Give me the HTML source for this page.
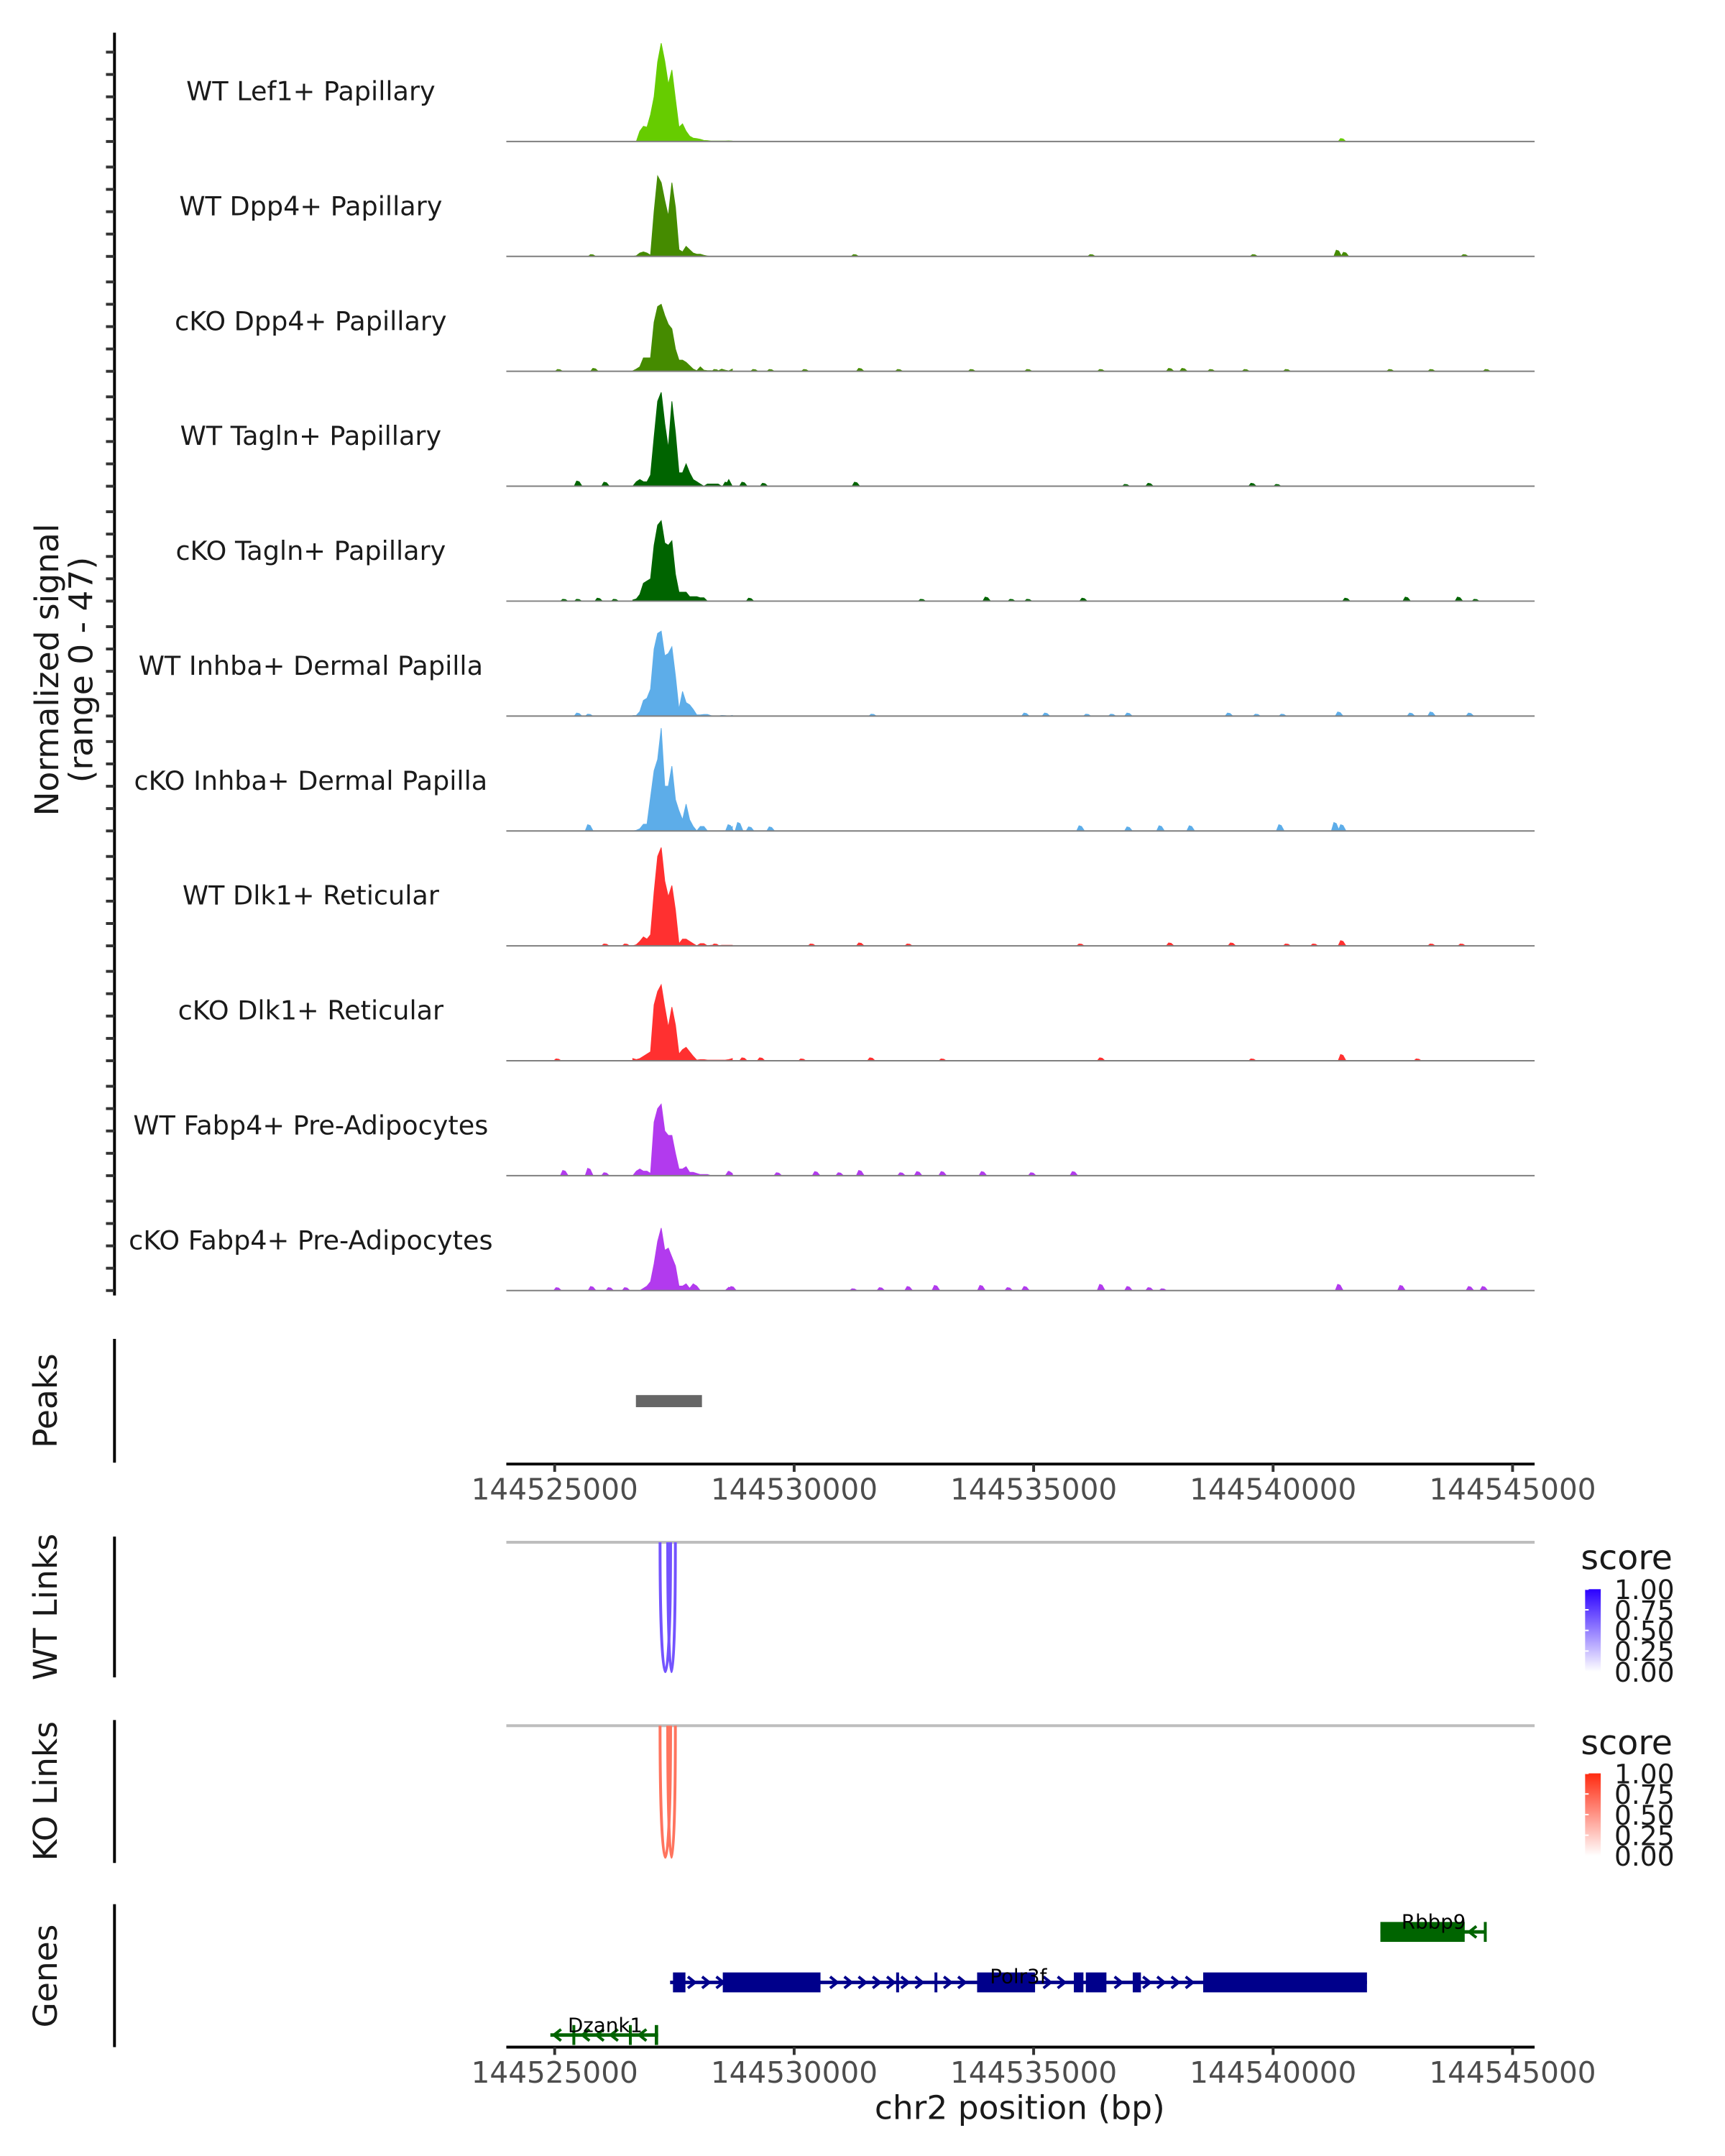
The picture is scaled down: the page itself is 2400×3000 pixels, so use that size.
<!DOCTYPE html>
<html><head><meta charset="utf-8">
<style>
html,body{margin:0;padding:0;background:#fff;}
svg{display:block;font-family:"DejaVu Sans","Liberation Sans",sans-serif;}
</style></head>
<body>
<svg id="chart" width="2400" height="3000" viewBox="0 0 2400 3000" xmlns="http://www.w3.org/2000/svg">
<rect x="0" y="0" width="2400" height="3000" fill="#fff"/>
<g transform="scale(0.9894)">
<text transform="translate(82,942) rotate(-90)" text-anchor="middle" font-size="46" fill="#1a1a1a">Normalized signal</text>
<text transform="translate(130,942) rotate(-90)" text-anchor="middle" font-size="46" fill="#1a1a1a">(range 0 - 47)</text>
<text transform="translate(80,1970) rotate(-90)" text-anchor="middle" font-size="46" fill="#1a1a1a">Peaks</text>
<text transform="translate(80,2260) rotate(-90)" text-anchor="middle" font-size="46" fill="#1a1a1a">WT Links</text>
<text transform="translate(80,2519) rotate(-90)" text-anchor="middle" font-size="46" fill="#1a1a1a">KO Links</text>
<text transform="translate(80,2779) rotate(-90)" text-anchor="middle" font-size="46" fill="#1a1a1a">Genes</text>
<text x="1434" y="2980" text-anchor="middle" font-size="46" fill="#1a1a1a">chr2 position (bp)</text>
<g id="g"></g>
</g>
</svg>
<script>
// ---------- data ----------
const trackNames=["WT Lef1+ Papillary","WT Dpp4+ Papillary","cKO Dpp4+ Papillary","WT Tagln+ Papillary","cKO Tagln+ Papillary","WT Inhba+ Dermal Papilla","cKO Inhba+ Dermal Papilla","WT Dlk1+ Reticular","cKO Dlk1+ Reticular","WT Fabp4+ Pre-Adipocytes","cKO Fabp4+ Pre-Adipocytes"];
const trackColors=["#66cc00","#458b00","#458b00","#006400","#006400","#5dade9","#5dade9","#ff3030","#ff3030","#b23aee","#b23aee"];
const gridBp=[144526630,144526704,144526778,144526853,144526927,144527001,144527075,144527150,144527224,144527298,144527372,144527447,144527521,144527595,144527669,144527744,144527818,144527892,144527966,144528041,144528115,144528189,144528263,144528338,144528412,144528486,144528560,144528635,144528709];
const sigWtLef1=[0,0,4.6,6.8,6.4,12,20,35.6,44,36,25.6,32,19,6.4,7.9,4.6,2.4,1.5,1.3,1,0.5,0.4,0.2,0.2,0.2,0.2,0.2,0.3,0.2];
const sigWtDpp4=[0,0.3,1.5,2,1.5,0.5,20,36,33,25,18,33,22,3,2,4.5,3,1.5,1,1,0.5,0.2,0,0,0,0,0,0,0];
const sigKoDpp4=[0.2,1,2,6,6,6,22,29,30,25,21,19,10,5,5,4,2.5,1,0.3,2,0.5,0.3,0.3,0.2,0.2,1,0.5,0.2,1];
const sigWtTagln=[0,2,3,2,2,5,22,38,42,28,17,38,24,6,6,10,6,3,2,1,0,1,1,1,1,0,0,3,0];
const sigKoTagln=[0.5,1,3,8,9,10,25,34,36,26,25,27,12,4,4,4,2,2,2,1.5,1.5,0,0,0,0,0,0,0,0];
const sigWtInhba=[0.2,0.3,2,7,8,12,30,37,38,27,28,31,18,3,11,6,5,3,0.5,0.5,0.7,0.7,0.2,0,0,0.3,0.2,0,0.3];
const sigKoInhba=[0,0.3,1,3,3,15,27,32,46,20,20,29,14,9,5,12,5,2,0,2,2,0,0,0,0,0,0,1,2];
const sigWtDlk1=[0,0.5,2,4,3,5,24,40,44,29,22,27,16,1,3,3,2,1,0,1,1,0,0.3,0.3,0,0.3,0.3,0.3,0.3];
const sigKoDlk1=[1,0.5,1,2,3,4,25,31,34,24,15,24,16,3,5,6,4,2,0.3,0.5,0.5,0.3,0.3,0.3,0.3,0.3,0.3,0.5,1];
const sigWtFabp4=[0,2,3,2,2,1,24,30,32,20,18,18,10,3,3,4,1.5,1.5,1,0.5,0.5,0.5,0,0,0,0,0,2,1];
const sigKoFabp4=[0,0,0,1,2,4,12,22,28,18,19,15,11,2,2,3,1,3,2,0,0,0,0,0,0,0,0,1.5,1];
const sigAll=[sigWtLef1,sigWtDpp4,sigKoDpp4,sigWtTagln,sigKoTagln,sigWtInhba,sigKoInhba,sigWtDlk1,sigKoDlk1,sigWtFabp4,sigKoFabp4];
// small bumps: positions in kb from 144525000, heights in signal units
const bumpKbWtLef1=[16.44]; const bumpHWtLef1=[1.5];
const bumpKbWtDpp4=[0.78,6.27,11.21,14.60,16.35,16.50,19.00]; const bumpHWtDpp4=[1,1,1,1,3,2,1];
const bumpKbKoDpp4=[0.09,0.83,3.36,4.17,4.51,5.23,6.38,7.19,8.71,9.89,11.41,12.85,13.13,13.71,14.43,15.29,17.45,18.31,19.46]; const bumpHKoDpp4=[1,1.5,1,1,1,1,1.5,1,1,1,1,1.5,1.5,1,1,1,1,1,1];
const bumpKbWtTagln=[0.49,1.06,3.59,3.94,4.37,6.29,11.93,12.42,14.57,15.09]; const bumpHWtTagln=[2.5,2,2,2,1.5,2,1,1.5,1.5,1];
const bumpKbKoTagln=[0.20,0.49,0.92,1.26,4.08,7.67,9.02,9.54,9.89,11.04,16.53,17.79,18.88,19.23]; const bumpHKoTagln=[1,1,1.5,1,1.5,1,2,1,1,1.5,1.5,2,2,1];
const bumpKbWtInhba=[0.49,0.72,6.64,9.83,10.26,11.12,11.64,11.98,14.08,14.66,15.20,16.38,17.88,18.31,19.11]; const bumpHWtInhba=[1.5,1,1,1.5,1.5,1,1,1.5,1.5,1,1,2,1.5,2,1.5];
const bumpKbKoInhba=[0.72,3.65,3.85,4.08,4.51,10.98,11.98,12.65,13.28,15.15,16.30,16.44]; const bumpHKoInhba=[3,3,4,2,2,2.5,2,2.5,2.5,3,4,3];
const bumpKbWtDlk1=[1.06,1.49,3.36,5.37,6.38,7.39,10.98,12.85,14.14,15.29,15.86,16.44,18.31,18.94]; const bumpHWtDlk1=[1,1,1,1,1.5,1,1,1.5,1.5,1,1,2.5,1,1];
const bumpKbKoDlk1=[0.06,3.94,4.31,5.17,6.61,8.10,11.41,14.57,16.44,18.02]; const bumpHKoDlk1=[1,1.5,1.5,1,1.5,1,1.5,1,3,1];
const bumpKbWtFabp4=[0.20,0.72,1.06,3.65,4.66,5.46,5.95,6.38,7.24,7.59,8.10,8.94,9.97,10.84]; const bumpHWtFabp4=[2.5,3.5,1.5,2,1.5,2,1.5,2.5,1.5,2,2,2,1.5,2];
const bumpKbKoFabp4=[0.06,0.78,1.15,1.49,3.71,6.24,6.81,7.39,7.96,8.91,9.48,9.83,11.41,11.98,12.42,12.70,16.38,17.68,19.11,19.40]; const bumpHKoFabp4=[1.5,2,1.5,1.5,2,1,1.5,2,2.5,2.5,1.5,2,3,2,1.5,1,3,2.5,2,2];
const bumpKbAll=[bumpKbWtLef1,bumpKbWtDpp4,bumpKbKoDpp4,bumpKbWtTagln,bumpKbKoTagln,bumpKbWtInhba,bumpKbKoInhba,bumpKbWtDlk1,bumpKbKoDlk1,bumpKbWtFabp4,bumpKbKoFabp4];
const bumpHAll=[bumpHWtLef1,bumpHWtDpp4,bumpHKoDpp4,bumpHWtTagln,bumpHKoTagln,bumpHWtInhba,bumpHKoInhba,bumpHWtDlk1,bumpHKoDlk1,bumpHWtFabp4,bumpHKoFabp4];
const yTicks=[0,10,20,30,40];
const xTickBp=[144525000,144530000,144535000,144540000,144545000];
const xTickLabels=["144525000","144530000","144535000","144540000","144545000"];
const peakStart=[144526696]; const peakEnd=[144528075];
const wtLinkStart=[144527200,144527360]; const wtLinkEnd=[144527420,144527520]; const wtLinkScore=[0.8,0.8];
const koLinkStart=[144527200,144527360]; const koLinkEnd=[144527420,144527520]; const koLinkScore=[0.75,0.75];
const legendTicks=[1.00,0.75,0.50,0.25,0.00];
const legendLabels=["1.00","0.75","0.50","0.25","0.00"];
const polr3fLine=[144527410,144541960];
const polr3fExonStart=[144527470,144528510,144532130,144532930,144533820,144535840,144536090,144537070,144538540];
const polr3fExonEnd=[144527730,144530550,144532190,144532990,144535030,144536040,144536520,144537240,144541960];
const rbbp9Line=[144542240,144544460]; const rbbp9ExonStart=[144542240,144544400]; const rbbp9ExonEnd=[144544000,144544460];
const dzank1Line=[144524910,144527160]; const dzank1ExonStart=[144525370,144527090,144526550]; const dzank1ExonEnd=[144525430,144527160,144526580];

// ---------- scales ----------
const NS="http://www.w3.org/2000/svg";
const G=document.getElementById('g');
const X0=712, X1=2158;
function sx(bp){return 780+(bp-144525000)*0.06735;}
const base0=199, trackStep=161.6, unitPx=147.7/47;
function baseY(i){return base0+i*trackStep;}
function sy(i,v){return baseY(i)-v*unitPx;}
function mk(tag,attrs){const e=document.createElementNS(NS,tag);for(const k in attrs)e.setAttribute(k,attrs[k]);G.appendChild(e);return e;}

let ax=mk('line',{x1:161,y1:46,x2:161,y2:1822,stroke:'#000','stroke-width':4});



trackNames.forEach((name,i)=>{
  const b=baseY(i), col=trackColors[i];
  yTicks.forEach(v=>{
    const t=mk('line',{x1:149,x2:161,y1:sy(i,v),y2:sy(i,v),stroke:'#333','stroke-width':4});
    
    
  });
  const lbl=mk('text',{x:437,y:b-71+13,'text-anchor':'middle','font-size':37,fill:'#1a1a1a'});
  lbl.textContent=name;
  
  
  const vals=sigAll[i];
  let d='M'+sx(gridBp[0])+','+b;
  gridBp.forEach((bp,k)=>{d+=' L'+sx(bp).toFixed(1)+','+sy(i,vals[k]).toFixed(1);});
  d+=' L'+sx(gridBp[gridBp.length-1])+','+b+' Z';
  const p=mk('path',{d:d,fill:col,stroke:col,'stroke-width':1});
  
  
  bumpKbAll[i].forEach((kb,k)=>{
    const bp=144525000+kb*1000, h=bumpHAll[i][k];
    const pts=[[bp-90,0],[bp-35,h],[bp+25,h*0.85],[bp+90,0]].map(q=>sx(q[0]).toFixed(1)+','+sy(i,q[1]).toFixed(1)).join(' ');
    const bb=mk('polygon',{points:pts,fill:col});
    
    
  });
  const bl=mk('line',{x1:X0,x2:X1,y1:b,y2:b,stroke:'#7f7f7f','stroke-width':2});
  
  
});

let pa=mk('line',{x1:161,y1:1883,x2:161,y2:2057,stroke:'#000','stroke-width':4});


peakStart.forEach((s,k)=>{
  const r=mk('rect',{x:sx(s),y:1962,width:sx(peakEnd[k])-sx(s),height:17,fill:'#666'});
  
  
});
function xAxis(y,nm){
  const l=mk('line',{x1:X0,x2:X1,y1:y,y2:y,stroke:'#000','stroke-width':4});
  
  
  xTickBp.forEach((bp,k)=>{
    const t=mk('line',{x1:sx(bp),x2:sx(bp),y1:y,y2:y+11,stroke:'#333','stroke-width':4});
    
    
    const tl=mk('text',{x:sx(bp),y:y+50,'text-anchor':'middle','font-size':41,fill:'#4d4d4d'});
    tl.textContent=xTickLabels[k];
    
    
  });
}
xAxis(2059,'peaks-x-axis');

function linkPanel(top,bottom,starts,ends,scores,hi,nm){
  const a=mk('line',{x1:161,y1:top-8,x2:161,y2:bottom+8,stroke:'#000','stroke-width':4});
  
  
  const g=mk('line',{x1:X0,x2:X1,y1:top,y2:top,stroke:'#bebebe','stroke-width':4});
  
  
  starts.forEach((s,k)=>{
    const x1=sx(s),x2=sx(ends[k]),dep=(bottom-top)*4/3;
    const sc=scores[k];
    const c='rgb('+Math.round(255+(hi[0]-255)*sc)+','+Math.round(255+(hi[1]-255)*sc)+','+Math.round(255+(hi[2]-255)*sc)+')';
    const p=mk('path',{d:'M'+x1+','+top+' C'+x1+','+(top+dep)+' '+x2+','+(top+dep)+' '+x2+','+top,fill:'none',stroke:c,'stroke-width':4});
    
    
  });
}
linkPanel(2169,2351,wtLinkStart,wtLinkEnd,wtLinkScore,[80,40,255],'wt-links');
linkPanel(2427,2612,koLinkStart,koLinkEnd,koLinkScore,[255,70,40],'ko-links');

function legend(titleY,barTop,hiCol,nm){
  const defs=mk('defs',{});
  const gr=document.createElementNS(NS,'linearGradient');
  gr.setAttribute('id',nm+'-grad');gr.setAttribute('x1','0');gr.setAttribute('y1','1');gr.setAttribute('x2','0');gr.setAttribute('y2','0');
  const s1=document.createElementNS(NS,'stop');s1.setAttribute('offset','0');s1.setAttribute('stop-color','#ffffff');
  const s2=document.createElementNS(NS,'stop');s2.setAttribute('offset','1');s2.setAttribute('stop-color',hiCol);
  gr.appendChild(s1);gr.appendChild(s2);defs.appendChild(gr);
  const t=mk('text',{x:2223,y:titleY,'font-size':48,fill:'#1a1a1a'});
  t.textContent='score';
  
  
  const bh=116;
  const r=mk('rect',{x:2229,y:barTop,width:22,height:bh,fill:'url(#'+nm+'-grad)'});
  
  
  legendTicks.forEach((v,k)=>{
    const y=barTop+bh*(1-v);
    const tk=mk('line',{x1:2229,x2:2234,y1:y,y2:y,stroke:'#fff','stroke-width':2});
    
    
    const l=mk('text',{x:2270,y:y+14,'font-size':38,fill:'#1a1a1a'});
    l.textContent=legendLabels[k];
    
    
  });
}
legend(2207,2235,'#2a00ff','wt');
legend(2467,2494,'#ff2a10','ko');

let ga=mk('line',{x1:161,y1:2678,x2:161,y2:2879,stroke:'#000','stroke-width':4});


function gene(line,es,ee,y,col,dir,label,lx,ly,nm){
  const l=mk('line',{x1:sx(line[0]),x2:sx(line[1]),y1:y,y2:y,stroke:col,'stroke-width':5});
  
  
  const xa=sx(line[0]), xb=sx(line[1]);
  for(let x=xa+10;x<xb-6;x+=20){
    const inEx=es.some((s,k)=>x>sx(s)-4&&x<sx(ee[k])+4);
    if(inEx)continue;
    const c=mk('polyline',{points:(x-dir*5)+','+(y-8)+' '+(x+dir*5)+','+y+' '+(x-dir*5)+','+(y+8),fill:'none',stroke:col,'stroke-width':4});
    
    
  }
  es.forEach((s,k)=>{
    const w=Math.max(4,sx(ee[k])-sx(s));
    const r=mk('rect',{x:sx(s),y:y-14,width:w,height:28,fill:col});
    
    
  });
  const t=mk('text',{x:lx,y:ly,'text-anchor':'middle','font-size':28,fill:'#000'});
  t.textContent=label;
  
  
}
gene(polr3fLine,polr3fExonStart,polr3fExonEnd,2788,'#00008b',1,'Polr3f',1432,2789,'polr3f');
gene(rbbp9Line,rbbp9ExonStart,rbbp9ExonEnd,2717,'#006400',-1,'Rbbp9',2016,2712,'rbbp9');
gene(dzank1Line,dzank1ExonStart,dzank1ExonEnd,2862,'#006400',-1,'Dzank1',851,2858,'dzank1');
xAxis(2879,'genes-x-axis');
</script>
</body></html>
